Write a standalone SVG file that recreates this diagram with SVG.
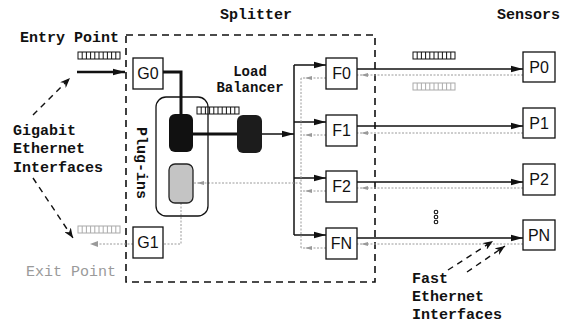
<svg xmlns="http://www.w3.org/2000/svg" width="568" height="324" viewBox="0 0 568 324">
<defs>
<style>
.lbl{font-family:"Liberation Mono","DejaVu Sans Mono",monospace;font-weight:bold;font-size:15px;fill:#111}
.sm{font-size:14px}
.exit{font-family:"Liberation Mono","DejaVu Sans Mono",monospace;font-size:15px;fill:#9a9a9a}
.box{fill:#fff;stroke:#111;stroke-width:1.3}
.bt{font-family:"Liberation Sans",Arial,sans-serif;font-size:16px;fill:#111;text-anchor:middle}
.blk{fill:none;stroke:#111;stroke-width:1.5}
.thk{fill:none;stroke:#111;stroke-width:3}
.gry{fill:none;stroke:#9a9a9a;stroke-width:1;stroke-dasharray:2 1.5}
.gah{fill:#9a9a9a}
.dash{fill:none;stroke:#111;stroke-width:1.4;stroke-dasharray:6 5}
.split{fill:none;stroke:#111;stroke-width:1.6;stroke-dasharray:7 5}
</style>
<marker id="ah" markerWidth="12" markerHeight="8" refX="12" refY="4" orient="auto" markerUnits="userSpaceOnUse"><path d="M0,0.8 L12,4 L0,7.2 Z" fill="#111"/></marker>
<marker id="ad" markerWidth="10" markerHeight="8" refX="10" refY="4" orient="auto" markerUnits="userSpaceOnUse"><path d="M0,0 L10,4 L0,8 L3,4 Z" fill="#111"/></marker>
<g id="pkt" fill="#fff" stroke="currentColor" stroke-width="1">
<rect x="0" y="0" width="42" height="7"/>
<path d="M4.2,0V7M8.4,0V7M12.6,0V7M16.8,0V7M21,0V7M25.2,0V7M29.4,0V7M33.6,0V7M37.8,0V7"/>
</g>
</defs>
<rect width="568" height="324" fill="#fff"/>

<g id="labels">
<text class="lbl" x="220" y="19">Splitter</text>
<text class="lbl" x="497" y="19">Sensors</text>
<text class="lbl" x="20" y="42">Entry Point</text>
<text class="lbl" x="13" y="135">Gigabit</text>
<text class="lbl" x="13" y="153">Ethernet</text>
<text class="lbl" x="13" y="172">Interfaces</text>
<text class="exit" x="26" y="276">Exit Point</text>
<text class="lbl sm" x="250" y="76" text-anchor="middle">Load</text>
<text class="lbl sm" x="250" y="92" text-anchor="middle">Balancer</text>
<text class="lbl" x="412" y="283">Fast</text>
<text class="lbl" x="412" y="301">Ethernet</text>
<text class="lbl" x="412" y="319">Interfaces</text>
</g>

<g id="splitter"><rect class="split" x="126" y="35" width="249" height="247"/></g>

<g id="connectors">
<line x1="77" y1="72" x2="125" y2="72" stroke="#111" stroke-width="2.5" marker-end="url(#ah)"/>
<use href="#pkt" x="78" y="52" color="#111"/>
<path class="thk" d="M163,72 H181 V114"/>
<path class="thk" d="M193,134 H237"/>
<use href="#pkt" x="197" y="107" color="#111"/>
<line class="blk" x1="262" y1="134" x2="294" y2="134" stroke-width="2" marker-end="url(#ah)"/>
<path class="blk" d="M294,65 V235"/>
<line class="blk" x1="294" y1="65" x2="326" y2="65" marker-end="url(#ah)"/>
<line class="blk" x1="294" y1="122" x2="326" y2="122" marker-end="url(#ah)"/>
<line class="blk" x1="294" y1="178" x2="326" y2="178" marker-end="url(#ah)"/>
<line class="blk" x1="294" y1="235" x2="326" y2="235" marker-end="url(#ah)"/>
<line class="blk" x1="357" y1="69" x2="523" y2="69" marker-end="url(#ah)"/>
<line class="blk" x1="357" y1="126" x2="523" y2="126" marker-end="url(#ah)"/>
<line class="blk" x1="357" y1="182" x2="523" y2="182" marker-end="url(#ah)"/>
<line class="blk" x1="357" y1="238" x2="523" y2="238" marker-end="url(#ah)"/>
<use href="#pkt" x="413" y="52" color="#111"/>
<use href="#pkt" x="413" y="83" color="#aaa"/>
<path class="gry" d="M523,75 H357 M523,133 H357 M523,188 H357 M523,244 H357"/>
<polygon class="gah" points="361,75 368,73 368,77"/>
<polygon class="gah" points="361,133 368,131 368,135"/>
<polygon class="gah" points="361,188 368,186 368,190"/>
<polygon class="gah" points="361,244 368,242 368,246"/>
<path class="gry" d="M326,78 H301 M326,135 H301 M326,191 H301 M326,248 H301 M301,78 V248"/>
<polygon class="gah" points="305,78 312,76 312,80"/>
<polygon class="gah" points="305,135 312,133 312,137"/>
<polygon class="gah" points="305,191 312,189 312,193"/>
<polygon class="gah" points="305,248 312,246 312,250"/>
<path class="gry" d="M301,183 H193"/>
<polygon class="gah" points="197,183 204,181 204,185"/>
<path class="gry" d="M181,203 V244 H163"/>
<path class="gry" d="M133,244 H93"/>
<polygon class="gah" points="90,244 98,241 98,247"/>
<use href="#pkt" x="78" y="226" color="#aaa"/>
<line class="dash" x1="33" y1="115" x2="70" y2="78" marker-end="url(#ad)"/>
<line class="dash" x1="33" y1="178" x2="73" y2="238" marker-end="url(#ad)"/>
<line class="dash" x1="448" y1="270" x2="493" y2="241" marker-end="url(#ad)"/>
<line class="dash" x1="467" y1="272" x2="505" y2="246" marker-end="url(#ad)"/>
</g>

<g id="plugins">
<rect x="156" y="97" width="52" height="119" rx="10" fill="none" stroke="#111" stroke-width="1.3"/>
<rect x="169" y="114" width="24" height="38" rx="6" fill="#111"/>
<rect x="169" y="164" width="24" height="39" rx="6" fill="#c4c4c4" stroke="#222" stroke-width="1.3"/>
<text class="lbl" transform="translate(137,163) rotate(90)" text-anchor="middle">Plug-ins</text>
</g>
<g id="loadbalancer"><rect x="237" y="115" width="25" height="38" rx="6" fill="#1c1c1c"/></g>

<g id="G0"><rect class="box" x="133" y="58" width="30" height="31"/><text class="bt" x="148" y="79">G0</text></g>
<g id="G1"><rect class="box" x="133" y="227" width="30" height="31"/><text class="bt" x="148" y="248">G1</text></g>
<g id="F0"><rect class="box" x="326" y="58" width="31" height="31"/><text class="bt" x="341.5" y="79">F0</text></g>
<g id="F1"><rect class="box" x="326" y="115" width="31" height="31"/><text class="bt" x="341.5" y="136">F1</text></g>
<g id="F2"><rect class="box" x="326" y="171" width="31" height="31"/><text class="bt" x="341.5" y="192">F2</text></g>
<g id="FN"><rect class="box" x="326" y="228" width="31" height="31"/><text class="bt" x="341.5" y="249">FN</text></g>
<g id="P0"><rect class="box" x="523" y="52" width="32" height="30"/><text class="bt" x="539" y="73">P0</text></g>
<g id="P1"><rect class="box" x="523" y="108" width="32" height="30"/><text class="bt" x="539" y="129">P1</text></g>
<g id="P2"><rect class="box" x="523" y="164" width="32" height="31"/><text class="bt" x="539" y="185">P2</text></g>
<g id="PN"><rect class="box" x="523" y="220" width="32" height="30"/><text class="bt" x="539" y="241">PN</text></g>
<g id="dots" fill="#fff" stroke="#111" stroke-width="1.1">
<circle cx="436" cy="212" r="1.8"/><circle cx="436" cy="217" r="1.8"/><circle cx="436" cy="222" r="1.8"/>
</g>
</svg>
